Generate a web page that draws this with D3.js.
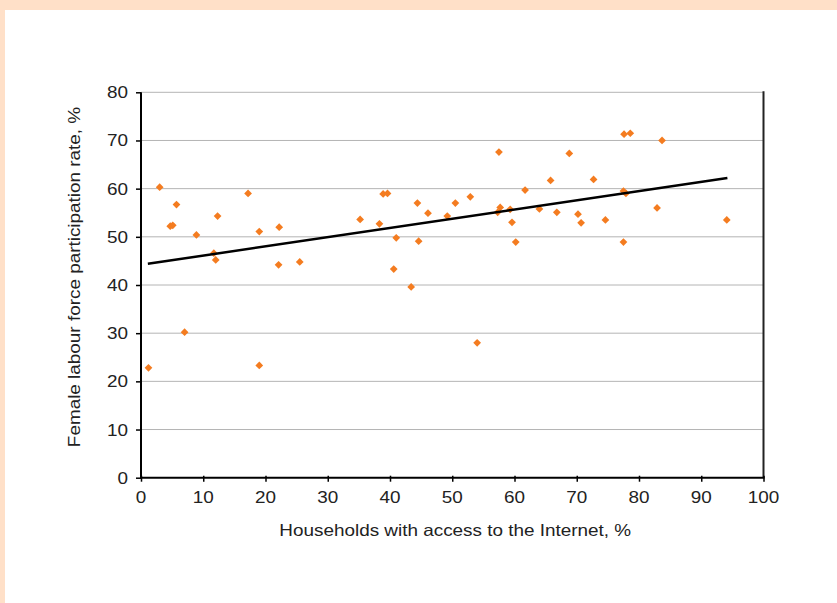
<!DOCTYPE html>
<html><head><meta charset="utf-8">
<script src="https://cdn.jsdelivr.net/npm/d3@7"></script>
<style>
html,body{margin:0;padding:0;background:#fff;}
svg{display:block;}
text{font-family:"Liberation Sans",Arial,sans-serif;fill:#222;}
</style></head>
<body>
<script>
// Data: households with Internet access (%) vs female labour force participation (%)
const internetAccess = [1.2,3.0,4.7,5.1,5.7,7.0,8.9,11.7,12.0,12.3,17.2,19.0,19.0,22.1,22.2,25.5,
  35.2,38.3,38.9,39.6,40.6,41.0,43.4,44.4,44.6,46.1,49.2,50.5,52.9,54.0,57.3,57.5,57.7,59.3,59.6,60.2,
  61.7,64.0,65.8,66.8,68.8,70.2,70.7,72.7,74.6,77.5,77.5,77.6,77.9,78.6,82.9,83.7,94.1];
const femaleParticipation = [22.8,60.3,52.2,52.4,56.7,30.2,50.4,46.6,45.2,54.3,59.0,51.1,23.3,44.2,52.0,44.8,
  53.6,52.7,58.9,59.0,43.3,49.8,39.6,57.0,49.1,54.9,54.3,57.0,58.3,28.0,55.1,67.6,56.1,55.7,53.0,48.9,
  59.7,55.8,61.7,55.1,67.3,54.7,52.9,61.9,53.5,59.5,48.9,71.3,59.0,71.5,56.0,70.0,53.5];
const trendX = [1.1, 94.2];
const trendY = [44.4, 62.2];
const xTicks = [0,10,20,30,40,50,60,70,80,90,100];
const yTicks = [0,10,20,30,40,50,60,70,80];
const xTitle = "Households with access to the Internet, %";
const yTitle = "Female labour force participation rate, %";

const W = 837, H = 603;
const FS = 16.3, SX = 1.16; // font size and horizontal stretch
const svg = d3.select("body").append("svg").attr("width", W).attr("height", H);
svg.append("rect").attr("width", W).attr("height", H).attr("fill", "#FFE0C8");
svg.append("rect").attr("x", 5).attr("y", 10).attr("width", W - 5).attr("height", H - 10).attr("fill", "#fff");

const L = 141, R = 763.5, T = 92.3, B = 477.7;
const x = d3.scaleLinear().domain([0, 100]).range([L, R]);
const y = d3.scaleLinear().domain([0, 80]).range([B, T]);

// gridlines
svg.append("g").selectAll("line").data(yTicks.filter(d => d > 0)).join("line")
  .attr("x1", L).attr("x2", R).attr("y1", d => y(d)).attr("y2", d => y(d))
  .attr("stroke", "#b4b4b4").attr("stroke-width", 1);

// right border
svg.append("line").attr("x1", R).attr("x2", R).attr("y1", T - 1).attr("y2", B)
  .attr("stroke", "#222").attr("stroke-width", 2);

// axes (tick labels drawn separately so they can be stretched)
const xAxis = svg.append("g").attr("transform", `translate(0,${B})`)
  .call(d3.axisBottom(x).tickValues(xTicks).tickSize(4).tickFormat(""));
const yAxis = svg.append("g").attr("transform", `translate(${L},0)`)
  .call(d3.axisLeft(y).tickValues(yTicks).tickSize(5).tickFormat(""));
[xAxis, yAxis].forEach(g => {
  g.select(".domain").attr("stroke", "#000").attr("stroke-width", 2);
  g.selectAll(".tick line").attr("stroke", "#000").attr("stroke-width", 1.5);
});
xAxis.select(".domain").attr("d", `M${L - 1},0H${R + 1}`);
yAxis.select(".domain").attr("d", `M0,${T}V${B + 1}`);
xAxis.selectAll(".tick line").attr("y1", -2);

svg.append("g").selectAll("text").data(xTicks).join("text")
  .attr("transform", d => `translate(${x(d)},${B + 25.5}) scale(${SX},1)`)
  .attr("text-anchor", "middle").attr("font-size", FS).text(d => d);
svg.append("g").selectAll("text").data(yTicks).join("text")
  .attr("transform", d => `translate(${L - 13},${y(d) + 6}) scale(${SX},1)`)
  .attr("text-anchor", "end").attr("font-size", FS).text(d => d);

// points
const pts = internetAccess.map((v, i) => [v, femaleParticipation[i]]);
svg.append("g").selectAll("path").data(pts).join("path")
  .attr("d", d3.symbol(d3.symbolSquare, 30))
  .attr("transform", d => `translate(${x(d[0])},${y(d[1])}) rotate(45)`)
  .attr("fill", "#F47C20");

// trend line
svg.append("line")
  .attr("x1", x(trendX[0])).attr("y1", y(trendY[0]))
  .attr("x2", x(trendX[1])).attr("y2", y(trendY[1]))
  .attr("stroke", "#000").attr("stroke-width", 2.5);

// titles
svg.append("text").attr("transform", `translate(${(L + R) / 2 + 3},536) scale(${SX},1)`)
  .attr("text-anchor", "middle").attr("font-size", FS).text(xTitle);
svg.append("text").attr("transform", `translate(80,${(T + B) / 2 - 8}) rotate(-90) scale(${SX},1)`)
  .attr("text-anchor", "middle").attr("font-size", FS).text(yTitle);
</script>
</body></html>
